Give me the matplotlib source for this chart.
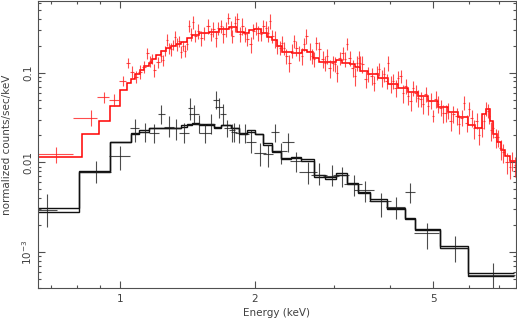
import matplotlib.pyplot as plt
import numpy as np
from matplotlib.ticker import FixedLocator, FixedFormatter, NullFormatter

# black spectrum: energy (keV), half bin width, counts and the ends of the error bar
black_energy = [0.687, 0.884, 1.0, 1.08, 1.137, 1.191, 1.235, 1.287, 1.335, 1.39,
                1.434, 1.464, 1.502, 1.549, 1.598, 1.64, 1.665, 1.70, 1.735, 1.781,
                1.80, 1.846, 1.904, 1.964, 2.057, 2.144, 2.222, 2.292, 2.376, 2.476,
                2.634, 2.787, 2.965, 3.122, 3.321, 3.515, 3.817, 4.123, 4.432, 4.837,
                5.588, 6.796]
black_halfwidth = [0.035, 0.071, 0.054, 0.025, 0.026, 0.031, 0.022, 0.033, 0.034, 0.036,
                   0.018, 0.038, 0.031, 0.048, 0.033, 0.025, 0.034, 0.026, 0.031, 0.028,
                   0.028, 0.038, 0.039, 0.051, 0.064, 0.055, 0.046, 0.071, 0.073, 0.077,
                   0.122, 0.115, 0.122, 0.129, 0.154, 0.181, 0.216, 0.202, 0.114, 0.311,
                   0.403, 0.805]
black_counts = [0.00293, 0.00774, 0.0117, 0.0239, 0.0221, 0.0215, 0.0350, 0.0251, 0.0245, 0.0215,
                0.0408, 0.0350, 0.0271, 0.0215, 0.0271, 0.0501, 0.0419, 0.0350, 0.0239, 0.0227,
                0.0221, 0.0215, 0.0210, 0.0167, 0.0126, 0.0123, 0.0221, 0.0133, 0.0171, 0.0103,
                0.00774, 0.00717, 0.00699, 0.00717, 0.0057, 0.00489, 0.00369, 0.00316, 0.00464, 0.00163,
                0.00111, 0.000555]
black_low = [0.00190, 0.00585, 0.00815, 0.0167, 0.0171, 0.0163, 0.0271, 0.0190, 0.0180, 0.0163,
             0.0300, 0.0278, 0.0215, 0.0163, 0.0210, 0.0398, 0.0316, 0.0258, 0.0190, 0.0171,
             0.0167, 0.0163, 0.0163, 0.0126, 0.00903, 0.0088, 0.0167, 0.0095, 0.0129, 0.00774,
             0.0057, 0.00555, 0.00541, 0.00528, 0.00419, 0.00359, 0.00245, 0.00233, 0.0035, 0.00108,
             0.000775, 0.000398]
black_high = [0.00441, 0.0105, 0.0151, 0.0308, 0.0278, 0.0271, 0.0441, 0.0333, 0.0308, 0.0278,
              0.0528, 0.0441, 0.0341, 0.0271, 0.0350, 0.0631, 0.0528, 0.0453, 0.0300, 0.0271,
              0.0278, 0.0271, 0.0271, 0.0227, 0.0163, 0.0155, 0.0271, 0.0163, 0.0215, 0.0129,
              0.0100, 0.00975, 0.00925, 0.0088, 0.00717, 0.00615, 0.00453, 0.00409, 0.00585, 0.0021,
              0.00151, 0.000755]

# the two black model curves (step edges in keV)
black_model_edges = [0.656, 0.810, 0.950, 1.058, 1.103, 1.161, 1.369, 1.412, 1.449, 1.502,
                     1.623, 1.682, 1.771, 1.846, 1.924, 2.005, 2.090, 2.187, 2.292, 2.411,
                     2.54, 2.715, 2.86, 3.04, 3.215, 3.39, 3.62, 3.95, 4.32, 4.55,
                     5.17, 5.97, 7.57]
black_model_a = [0.00308, 0.00794, 0.0167, 0.0215, 0.0227, 0.0245, 0.0258, 0.0271, 0.0278, 0.0271,
                 0.0251, 0.0258, 0.0239, 0.0215, 0.0227, 0.0210, 0.0163, 0.0133, 0.0111, 0.0114,
                 0.0108, 0.00717, 0.00681, 0.00755, 0.00585, 0.00464, 0.00388, 0.00308, 0.00239, 0.00180,
                 0.00111, 0.000541]
black_model_b = [0.00278, 0.00774, 0.0167, 0.0210, 0.0221, 0.0239, 0.0251, 0.0264, 0.0271, 0.0264,
                 0.0245, 0.0258, 0.0239, 0.0210, 0.0221, 0.0205, 0.0158, 0.0129, 0.0108, 0.0111,
                 0.0105, 0.00681, 0.00647, 0.00717, 0.00570, 0.00453, 0.00369, 0.00300, 0.00233, 0.00175,
                 0.00117, 0.000585]

# red spectrum
red_energy = [0.719, 0.861, 0.921, 0.970, 1.016, 1.042, 1.064, 1.086, 1.108, 1.132,
              1.149, 1.167, 1.179, 1.191, 1.216, 1.235, 1.248, 1.261, 1.274, 1.287,
              1.300, 1.314, 1.327, 1.341, 1.355, 1.369, 1.383, 1.398, 1.412, 1.427,
              1.441, 1.456, 1.472, 1.494, 1.517, 1.541, 1.574, 1.598, 1.615, 1.640,
              1.657, 1.683, 1.700, 1.726, 1.744, 1.771, 1.781, 1.808, 1.827, 1.855,
              1.875, 1.904, 1.924, 1.964, 1.984, 2.015, 2.036, 2.068, 2.089, 2.122,
              2.144, 2.166, 2.188, 2.223, 2.246, 2.281, 2.304, 2.328, 2.352, 2.388,
              2.426, 2.451, 2.476, 2.515, 2.554, 2.580, 2.607, 2.648, 2.675, 2.716,
              2.744, 2.787, 2.831, 2.860, 2.890, 2.935, 2.981, 3.012, 3.043, 3.090,
              3.138, 3.171, 3.203, 3.253, 3.304, 3.338, 3.373, 3.408, 3.426, 3.461,
              3.533, 3.570, 3.644, 3.681, 3.739, 3.778, 3.836, 3.876, 3.936, 3.957,
              4.018, 4.060, 4.123, 4.166, 4.231, 4.275, 4.341, 4.386, 4.455, 4.501,
              4.571, 4.618, 4.690, 4.739, 4.813, 4.863, 4.939, 4.990, 5.068, 5.120,
              5.200, 5.254, 5.336, 5.391, 5.475, 5.532, 5.647, 5.705, 5.794, 5.854,
              5.945, 6.007, 6.100, 6.163, 6.259, 6.324, 6.425, 6.491, 6.558, 6.626,
              6.660, 6.729, 6.798, 6.904, 6.975, 7.084, 7.158, 7.307, 7.420, 7.497,
              7.614]
red_counts = [0.0123, 0.0316, 0.0541, 0.0501, 0.0815, 0.129, 0.103, 0.0903, 0.103, 0.117,
              0.167, 0.136, 0.143, 0.108, 0.132, 0.154, 0.139, 0.176, 0.233, 0.190,
              0.185, 0.205, 0.251, 0.210, 0.227, 0.171, 0.200, 0.176, 0.210, 0.333,
              0.271, 0.369, 0.258, 0.293, 0.245, 0.278, 0.333, 0.271, 0.308, 0.245,
              0.316, 0.333, 0.271, 0.308, 0.408, 0.316, 0.258, 0.359, 0.398, 0.271,
              0.333, 0.271, 0.239, 0.210, 0.293, 0.316, 0.278, 0.271, 0.333, 0.316,
              0.278, 0.378, 0.258, 0.239, 0.200, 0.190, 0.215, 0.190, 0.154, 0.129,
              0.176, 0.227, 0.190, 0.167, 0.154, 0.210, 0.258, 0.176, 0.154, 0.143,
              0.215, 0.185, 0.143, 0.129, 0.154, 0.114, 0.129, 0.126, 0.100, 0.147,
              0.167, 0.143, 0.210, 0.147, 0.114, 0.0926, 0.129, 0.147, 0.129, 0.126,
              0.0858, 0.0975, 0.0926, 0.0774, 0.100, 0.111, 0.0880, 0.0975, 0.0815, 0.129,
              0.0755, 0.0815, 0.0681, 0.0880, 0.0926, 0.0599, 0.0717, 0.0555, 0.0489, 0.0681,
              0.0599, 0.0528, 0.0514, 0.0453, 0.0584, 0.0430, 0.0489, 0.0333, 0.0514, 0.0453,
              0.0409, 0.0359, 0.0359, 0.0379, 0.0293, 0.0350, 0.0333, 0.0271, 0.0316, 0.0464,
              0.0278, 0.0398, 0.0316, 0.0239, 0.0293, 0.0200, 0.0245, 0.0293, 0.0398, 0.0379,
              0.0333, 0.0227, 0.0239, 0.0190, 0.0190, 0.0143, 0.0129, 0.0100, 0.0088, 0.0105,
              0.00925]
# relative error of each red point
red_relerr = [0.20, 0.20, 0.14, 0.16, 0.12, 0.13, 0.15, 0.16, 0.17, 0.15,
              0.14, 0.14, 0.13, 0.17, 0.14, 0.15, 0.14, 0.13, 0.15, 0.14,
              0.16, 0.13, 0.15, 0.16, 0.14, 0.15, 0.13, 0.16, 0.14, 0.15,
              0.16, 0.17, 0.15, 0.18, 0.18, 0.17, 0.19, 0.16, 0.18, 0.20,
              0.17, 0.16, 0.21, 0.18, 0.15, 0.19, 0.17, 0.20, 0.16, 0.18,
              0.21, 0.18, 0.17, 0.20, 0.19, 0.16, 0.18, 0.17, 0.16, 0.19,
              0.20, 0.18, 0.17, 0.21, 0.19, 0.18, 0.20, 0.17, 0.19, 0.22,
              0.18, 0.17, 0.20, 0.19, 0.21, 0.17, 0.18, 0.22, 0.19, 0.18,
              0.17, 0.20, 0.21, 0.18, 0.19, 0.23, 0.18, 0.20, 0.22, 0.17,
              0.16, 0.19, 0.15, 0.20, 0.22, 0.23, 0.18, 0.20, 0.19, 0.21,
              0.22, 0.19, 0.21, 0.20, 0.18, 0.17, 0.22, 0.19, 0.20, 0.18,
              0.21, 0.20, 0.22, 0.19, 0.17, 0.23, 0.20, 0.22, 0.24, 0.19,
              0.21, 0.22, 0.20, 0.23, 0.19, 0.22, 0.20, 0.16, 0.21, 0.22,
              0.20, 0.23, 0.21, 0.20, 0.24, 0.21, 0.22, 0.24, 0.20, 0.18,
              0.22, 0.18, 0.21, 0.24, 0.20, 0.22, 0.21, 0.19, 0.17, 0.18,
              0.20, 0.23, 0.22, 0.24, 0.22, 0.25, 0.24, 0.26, 0.25, 0.24,
              0.25]

red_model_edges = [0.656, 0.822, 0.898, 0.950, 1.000, 1.037, 1.058, 1.080, 1.108, 1.132,
                   1.161, 1.179, 1.204, 1.235, 1.268, 1.300, 1.335, 1.369, 1.412, 1.449,
                   1.502, 1.581, 1.665, 1.753, 1.827, 1.894, 1.944, 1.994, 2.068, 2.133,
                   2.188, 2.246, 2.304, 2.426, 2.554, 2.620, 2.689, 2.787, 3.027, 3.122,
                   3.253, 3.338, 3.426, 3.570, 3.758, 3.957, 4.166, 4.386, 4.618, 4.863,
                   5.120, 5.391, 5.676, 5.974, 6.194, 6.425, 6.558, 6.693, 6.798, 6.939,
                   7.084, 7.231, 7.420, 7.65]
red_model = [0.0114, 0.0210, 0.0286, 0.0430, 0.0647, 0.0774, 0.0858, 0.0975, 0.108, 0.120,
             0.129, 0.143, 0.158, 0.176, 0.190, 0.200, 0.210, 0.221, 0.245, 0.264,
             0.278, 0.286, 0.308, 0.325, 0.286, 0.278, 0.300, 0.308, 0.278, 0.251,
             0.233, 0.200, 0.171, 0.167, 0.180, 0.171, 0.147, 0.132, 0.139, 0.129,
             0.126, 0.117, 0.105, 0.0975, 0.0880, 0.0755, 0.0681, 0.0615, 0.0555, 0.0489,
             0.0419, 0.0369, 0.0325, 0.0264, 0.0239, 0.0350, 0.0398, 0.0286, 0.0205, 0.0167,
             0.0136, 0.0117, 0.0105]

x_ticks = [1, 2, 5]
x_labels = ['1', '2', '5']
y_ticks = [1e-3, 1e-2, 1e-1]
y_labels = ['10$^{-3}$', '0.01', '0.1']

text_color = '#404040'
frame_color = '#505050'

fig = plt.figure(figsize=(5.17, 3.2), dpi=100)
ax = fig.add_axes([0.0735, 0.1, 0.9245, 0.897])

# red data and model
re = np.array(red_energy)
rc = np.array(red_counts)
mid = np.sqrt(re[:-1] * re[1:])
left = np.concatenate([[red_model_edges[0]], mid])
right = np.concatenate([mid, [red_model_edges[-1]]])
ax.errorbar(re, rc, xerr=[re - left, right - re], yerr=rc * np.array(red_relerr),
            fmt='none', ecolor='#ff2020', elinewidth=0.8, capsize=0, alpha=0.8)
ax.stairs(red_model, red_model_edges, color='#ff0000', linewidth=1.1, baseline=None)

# black data and models
be = np.array(black_energy)
bc = np.array(black_counts)
ax.errorbar(be, bc, xerr=black_halfwidth,
            yerr=[bc - np.array(black_low), np.array(black_high) - bc],
            fmt='none', ecolor='#202020', elinewidth=0.8, capsize=0, alpha=0.8)
ax.stairs(black_model_a, black_model_edges, color='#111111', linewidth=1.0, baseline=None)
ax.stairs(black_model_b, black_model_edges, color='#111111', linewidth=1.0, baseline=None)

ax.set_xscale('log')
ax.set_yscale('log')
ax.set_xlim(0.656, 7.65)
ax.set_ylim(3.98e-4, 0.631)

ax.xaxis.set_major_locator(FixedLocator(x_ticks))
ax.xaxis.set_major_formatter(FixedFormatter(x_labels))
ax.xaxis.set_minor_locator(FixedLocator([0.7, 0.8, 0.9, 3, 4, 6, 7]))
ax.xaxis.set_minor_formatter(NullFormatter())
ax.yaxis.set_major_locator(FixedLocator(y_ticks))
ax.yaxis.set_major_formatter(FixedFormatter(y_labels))
minor_y = [m * d for d in (1e-4, 1e-3, 1e-2, 1e-1) for m in range(2, 10)]
ax.yaxis.set_minor_locator(FixedLocator(minor_y))
ax.yaxis.set_minor_formatter(NullFormatter())

ax.tick_params(which='both', direction='in', top=True, right=True,
               color=frame_color, width=0.8, labelcolor=text_color, labelsize=7.5)
ax.tick_params(which='major', length=5)
ax.tick_params(which='minor', length=2.5)
ax.tick_params(axis='y', which='major', pad=3)
ax.tick_params(axis='x', which='major', pad=4)
for lab in ax.get_yticklabels():
    lab.set_rotation(90)
    lab.set_va('center')

for s in ax.spines.values():
    s.set_color(frame_color)
    s.set_linewidth(0.8)

ax.set_xlabel('Energy (keV)', fontsize=7.5, color=text_color)
ax.set_ylabel('normalized counts/sec/keV', fontsize=7.5, color=text_color)
ax.xaxis.set_label_coords(0.5, -0.068)
ax.yaxis.set_label_coords(-0.055, 0.5)

fig.savefig('out.png', dpi=100)
